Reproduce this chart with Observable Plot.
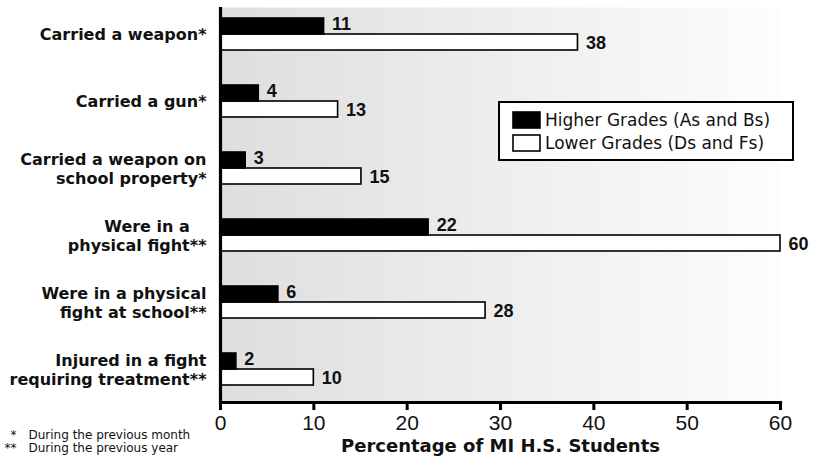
<!DOCTYPE html>
<html>
<head>
<meta charset="utf-8">
<script src="https://cdn.jsdelivr.net/npm/d3@7"></script>
<script src="https://cdn.jsdelivr.net/npm/@observablehq/plot@0.6"></script>
<style>
  html, body { margin: 0; padding: 0; background: #fff; }
  #chart svg { display: block; }
</style>
</head>
<body>
<div id="chart"></div>
<script>
// ---- data ----
const categories = [
  "Carried a weapon*",
  "Carried a gun*",
  "Carried a weapon on\nschool property*",
  "Were in a\u00a0\u00a0\u00a0\nphysical fight**",
  "Were in a physical\nfight at school**",
  "Injured in a fight\nrequiring treatment**"
];
const higher = [11.1, 4.1, 2.7, 22.3, 6.2, 1.7];   // Higher Grades (As and Bs)
const lower  = [38.3, 12.6, 15.1, 60.0, 28.4, 10.0]; // Lower Grades (Ds and Fs)
const seriesNames = ["Higher Grades (As and Bs)", "Lower Grades (Ds and Fs)"];
const seriesFills = ["#000000", "#ffffff"];
const xTicks = [0, 10, 20, 30, 40, 50, 60];
const axisTitle = "Percentage of MI H.S. Students";
const footMarks = "*\n**";
const footTexts = "During the previous month\nDuring the previous year";

const rows = categories.map((c, i) => ({cat: c, higher: higher[i], lower: lower[i]}));

const boldFont = "DejaVu Sans, sans-serif";
const numFont = "Liberation Sans, Arial, sans-serif";

const plot = Plot.plot({
  width: 826,
  height: 457,
  marginLeft: 220,
  marginRight: 46,
  marginTop: 0,
  marginBottom: 55,
  x: {domain: [0, 60]},
  y: {domain: categories, padding: 0},
  marks: [
    Plot.frame({fill: "url(#bggrad)", stroke: "none", insetTop: 7}),
    Plot.barX(rows, {x: "lower", y: "cat", fill: seriesFills[1], stroke: "#000", strokeWidth: 1.6, insetTop: 34, insetBottom: 17}),
    Plot.barX(rows, {x: "higher", y: "cat", fill: seriesFills[0], stroke: "#000", strokeWidth: 1.6, insetTop: 18, insetBottom: 33}),
    Plot.text(rows, {x: "higher", y: "cat", text: d => String(Math.round(d.higher)), dx: 8, dy: -10, textAnchor: "start", fontWeight: "bold", fontSize: 18, fontFamily: numFont, fill: "#111"}),
    Plot.text(rows, {x: "lower", y: "cat", text: d => String(Math.round(d.lower)), dx: 8, dy: 9.5, textAnchor: "start", fontWeight: "bold", fontSize: 18, fontFamily: numFont, fill: "#111"}),
    Plot.ruleX([0], {stroke: "#000", strokeWidth: 3.2, insetTop: 7}),
    Plot.frame({anchor: "bottom", stroke: "#000", strokeWidth: 3.2}),
    Plot.axisX({ticks: xTicks, tickSize: 8, tickPadding: 5, strokeWidth: 3, fontSize: 21, fontFamily: numFont, label: null, fill: "#111"}),
    Plot.axisY({tickSize: 0, tickPadding: 14, fontSize: 16, fontWeight: "bold", fontFamily: boldFont, lineHeight: 1.2, label: null, tickFormat: d => d, fill: "#111"}),
    Plot.text([axisTitle], {frameAnchor: "bottom", text: d => d, lineAnchor: "top", dy: 37, fontWeight: "bold", fontSize: 18, fontFamily: boldFont, fill: "#111"}),
    Plot.text([footMarks], {frameAnchor: "bottom-left", text: d => d, textAnchor: "end", lineAnchor: "top", dx: -204, dy: 27, fontSize: 12, lineHeight: 1.1, fontFamily: boldFont, fill: "#111"}),
    Plot.text([footTexts], {frameAnchor: "bottom-left", text: d => d, textAnchor: "start", lineAnchor: "top", dx: -192, dy: 27, fontSize: 12, lineHeight: 1.1, fontFamily: boldFont, fill: "#111"})
  ]
});

const svg = d3.select(plot);
const defs = svg.insert("defs", ":first-child");
const grad = defs.append("linearGradient").attr("id", "bggrad").attr("x1", "0%").attr("x2", "100%").attr("y1", "0%").attr("y2", "0%");
grad.append("stop").attr("offset", "0%").attr("stop-color", "#dedede");
grad.append("stop").attr("offset", "100%").attr("stop-color", "#fdfdfd");

// legend
const lg = svg.append("g").attr("transform", "translate(499,102)").attr("text-anchor", "start");
lg.append("rect").attr("width", 294).attr("height", 58).attr("fill", "#fff").attr("stroke", "#000").attr("stroke-width", 2);
seriesNames.forEach((name, i) => {
  const gy = 10 + i * 23;
  lg.append("rect").attr("x", 14).attr("y", gy).attr("width", 27).attr("height", 16)
    .attr("fill", seriesFills[i]).attr("stroke", "#000").attr("stroke-width", 1.6);
  lg.append("text").attr("x", 46).attr("y", gy + 8).attr("dy", "0.36em").attr("text-anchor", "start")
    .attr("font-family", boldFont).attr("font-size", 17).attr("fill", "#111").text(name);
});

document.getElementById("chart").appendChild(plot);
</script>
</body>
</html>
